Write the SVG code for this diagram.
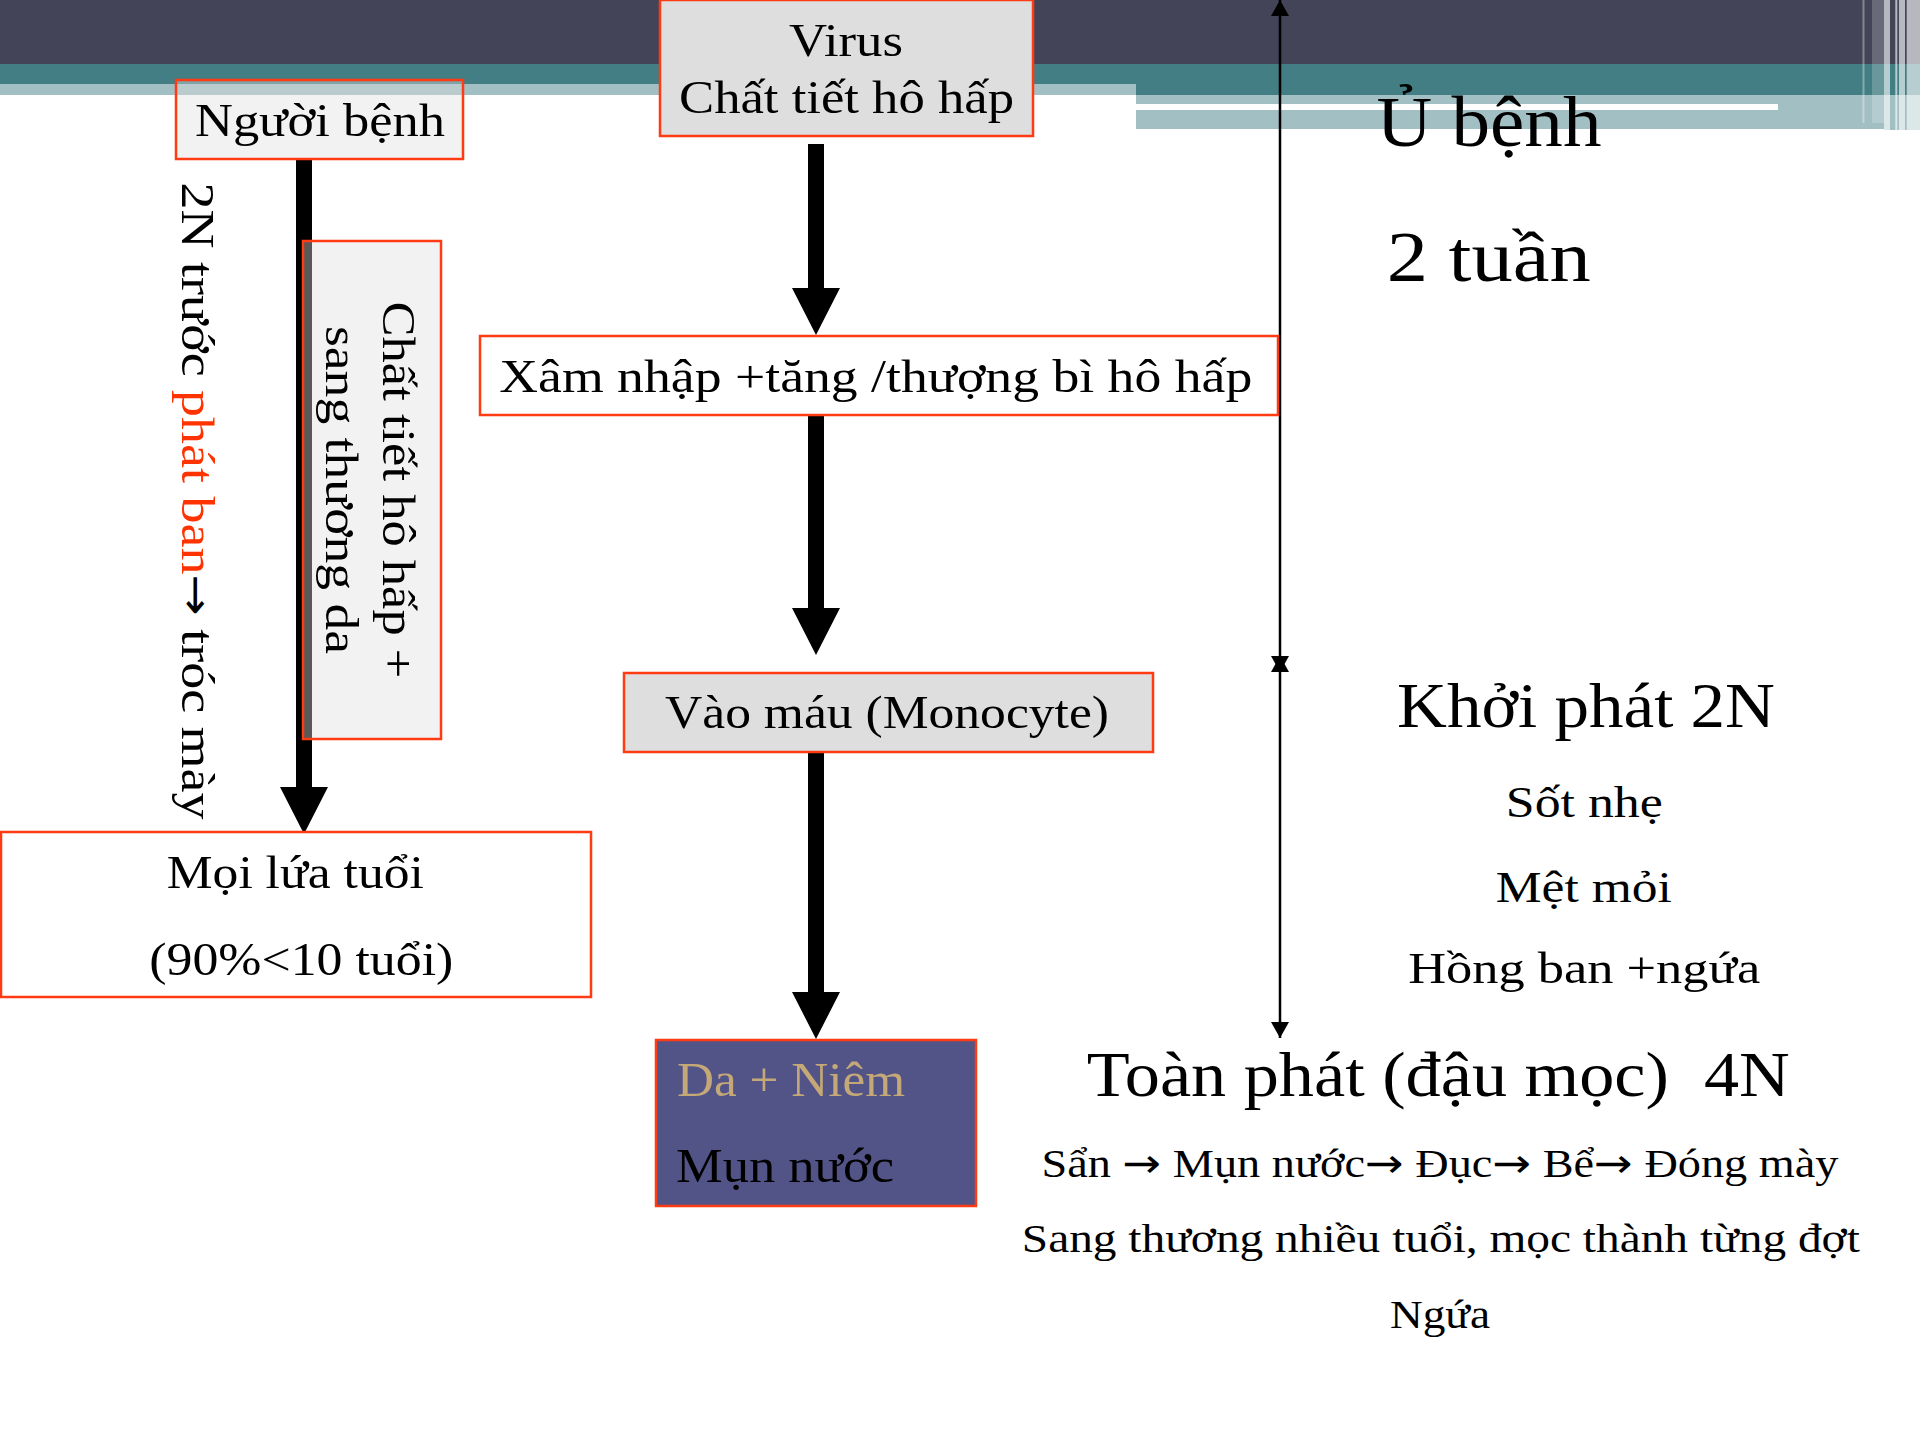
<svg xmlns="http://www.w3.org/2000/svg" width="1920" height="1440" viewBox="0 0 1920 1440">
<defs>
<style>
text{font-family:"Liberation Serif","Times New Roman",serif;fill:#000}
.box{stroke:#FF3B14;stroke-width:2.5}
.grey{fill:#DEDEDE}
.ghost{fill:rgb(222,222,222);fill-opacity:0.4}
.t46{font-size:46px}
.t40{font-size:40px}
.t44{font-size:44px}
.t64{font-size:64px}
.t72{font-size:72px}
.arr{font-family:"DejaVu Sans",sans-serif}
.blk{fill:#000}
.tl{stroke:#000;stroke-width:2.5;fill:none;marker-start:url(#ah);marker-end:url(#ah)}
</style>
<marker id="ah" viewBox="0 0 16 18" refX="16" refY="9" markerWidth="16" markerHeight="18" markerUnits="userSpaceOnUse" orient="auto-start-reverse">
<path d="M0,0 L16,9 L0,18 Z" fill="#000"/>
</marker>
</defs>

<g id="background">
<rect x="0" y="0" width="1920" height="1440" fill="#FFFFFF"/>
<rect x="0" y="0" width="1920" height="64" fill="#434458"/>
<rect x="0" y="64" width="1920" height="31" fill="#437E84"/>
<rect x="0" y="84" width="1136" height="11" fill="#A2BFC3"/>
<rect x="1136" y="95" width="748" height="34" fill="#A2BFC3"/>
<rect x="1884" y="95" width="36" height="35" fill="#A2BFC3"/>
<rect x="1136" y="104" width="642" height="6" fill="#FFFFFF"/>
<rect x="1862.5" y="0" width="2" height="123" fill="#FFFFFF" fill-opacity="0.35"/>
<rect x="1872" y="0" width="12" height="123" fill="#FFFFFF" fill-opacity="0.2"/>
<rect x="1884" y="0" width="6" height="130" fill="#FFFFFF" fill-opacity="0.62"/>
<rect x="1895.3" y="0" width="2" height="130" fill="#FFFFFF" fill-opacity="0.62"/>
<rect x="1899" y="0" width="6" height="130" fill="#FFFFFF" fill-opacity="0.62"/>
<rect x="1906.7" y="0" width="13.3" height="130" fill="#FFFFFF" fill-opacity="0.62"/>
</g>

<g id="connectors">
<path class="blk" d="M808,144 H824 V288 H840 L816,335 L792,288 H808 Z"/>
<path class="blk" d="M808,415 H824 V608 H840 L816,655 L792,608 H808 Z"/>
<path class="blk" d="M808,752 H824 V992 H840 L816,1039 L792,992 H808 Z"/>
<path class="blk" d="M296,159 H312 V787 H328 L304,834 L280,787 H296 Z"/>
<line class="tl" x1="1280" y1="0" x2="1280" y2="672"/>
<line class="tl" x1="1280" y1="656" x2="1280" y2="1038"/>
</g>

<g id="node-virus">
<rect class="box grey" x="660" y="0" width="373" height="136"/>
<text class="t46" x="846" y="56" text-anchor="middle" textLength="114" lengthAdjust="spacingAndGlyphs">Virus</text>
<text class="t46" x="846.5" y="113" text-anchor="middle" textLength="335" lengthAdjust="spacingAndGlyphs">Chất tiết hô hấp</text>
</g>

<g id="node-nguoi-benh">
<rect class="box ghost" x="176" y="80" width="287" height="79"/>
<text class="t46" x="320" y="136" text-anchor="middle" textLength="250" lengthAdjust="spacingAndGlyphs">Người bệnh</text>
</g>

<g id="node-chat-tiet">
<rect class="box ghost" x="303" y="241" width="138" height="498"/>
<text class="t46" transform="translate(383,490) rotate(90)" text-anchor="middle" textLength="377" lengthAdjust="spacingAndGlyphs">Chất tiết hô hấp +</text>
<text class="t46" transform="translate(326,490) rotate(90)" text-anchor="middle" textLength="328" lengthAdjust="spacingAndGlyphs">sang thương da</text>
</g>

<g id="label-2n">
<text class="t46" transform="translate(182,182.5) rotate(90)" textLength="637" lengthAdjust="spacingAndGlyphs">2N trước <tspan fill="#FF3300">phát ban</tspan><tspan class="arr" style="font-size:42px">→</tspan> tróc mày</text>
</g>

<g id="node-xam-nhap">
<rect class="box" fill="#FFFFFF" x="480" y="336" width="798" height="79"/>
<text class="t46" x="499.3" y="391.7" textLength="753" lengthAdjust="spacingAndGlyphs">Xâm nhập +tăng /thượng bì hô hấp</text>
</g>

<g id="node-vao-mau">
<rect class="box grey" x="624" y="673" width="529" height="79"/>
<text class="t46" x="887" y="728.4" text-anchor="middle" textLength="444" lengthAdjust="spacingAndGlyphs">Vào máu (Monocyte)</text>
</g>

<g id="node-da-niem">
<rect class="box" fill="#525488" x="656" y="1040" width="320" height="166"/>
<text style="font-size:48px;fill:#C4A877" x="677" y="1096" textLength="228" lengthAdjust="spacingAndGlyphs">Da + Niêm</text>
<text style="font-size:48px" x="676" y="1182" textLength="218" lengthAdjust="spacingAndGlyphs">Mụn nước</text>
</g>

<g id="node-moi-lua-tuoi">
<rect class="box" fill="#FFFFFF" x="1" y="832" width="590" height="165"/>
<text class="t46" x="295.3" y="888.3" text-anchor="middle" textLength="257" lengthAdjust="spacingAndGlyphs">Mọi lứa tuổi</text>
<text class="t46" x="301.3" y="975" text-anchor="middle" textLength="304" lengthAdjust="spacingAndGlyphs">(90%&lt;10 tuổi)</text>
</g>

<g id="stage-u-benh">
<text class="t72" x="1489" y="146" text-anchor="middle" textLength="225" lengthAdjust="spacingAndGlyphs">Ủ bệnh</text>
<text class="t72" x="1488.7" y="280.7" text-anchor="middle" textLength="204" lengthAdjust="spacingAndGlyphs">2 tuần</text>
</g>

<g id="stage-khoi-phat">
<text class="t64" x="1586" y="727.3" text-anchor="middle" textLength="378" lengthAdjust="spacingAndGlyphs">Khởi phát 2N</text>
<text class="t44" x="1584.3" y="816.7" text-anchor="middle" textLength="157" lengthAdjust="spacingAndGlyphs">Sốt nhẹ</text>
<text class="t44" x="1583.8" y="901.7" text-anchor="middle" textLength="176" lengthAdjust="spacingAndGlyphs">Mệt mỏi</text>
<text class="t44" x="1584.2" y="983.3" text-anchor="middle" textLength="352" lengthAdjust="spacingAndGlyphs">Hồng ban +ngứa</text>
</g>

<g id="stage-toan-phat">
<text class="t64" x="1438.3" y="1096" text-anchor="middle" textLength="703" lengthAdjust="spacingAndGlyphs">Toàn phát (đậu mọc) &#160;4N</text>
<text class="t40" x="1440" y="1177.3" text-anchor="middle" textLength="797" lengthAdjust="spacingAndGlyphs">Sẩn <tspan class="arr">→</tspan> Mụn nước<tspan class="arr">→</tspan> Đục<tspan class="arr">→</tspan> Bể<tspan class="arr">→</tspan> Đóng mày</text>
<text class="t40" x="1440.8" y="1251.7" text-anchor="middle" textLength="838" lengthAdjust="spacingAndGlyphs">Sang thương nhiều tuổi, mọc thành từng đợt</text>
<text class="t40" x="1440" y="1328.3" text-anchor="middle" textLength="100" lengthAdjust="spacingAndGlyphs">Ngứa</text>
</g>
</svg>
